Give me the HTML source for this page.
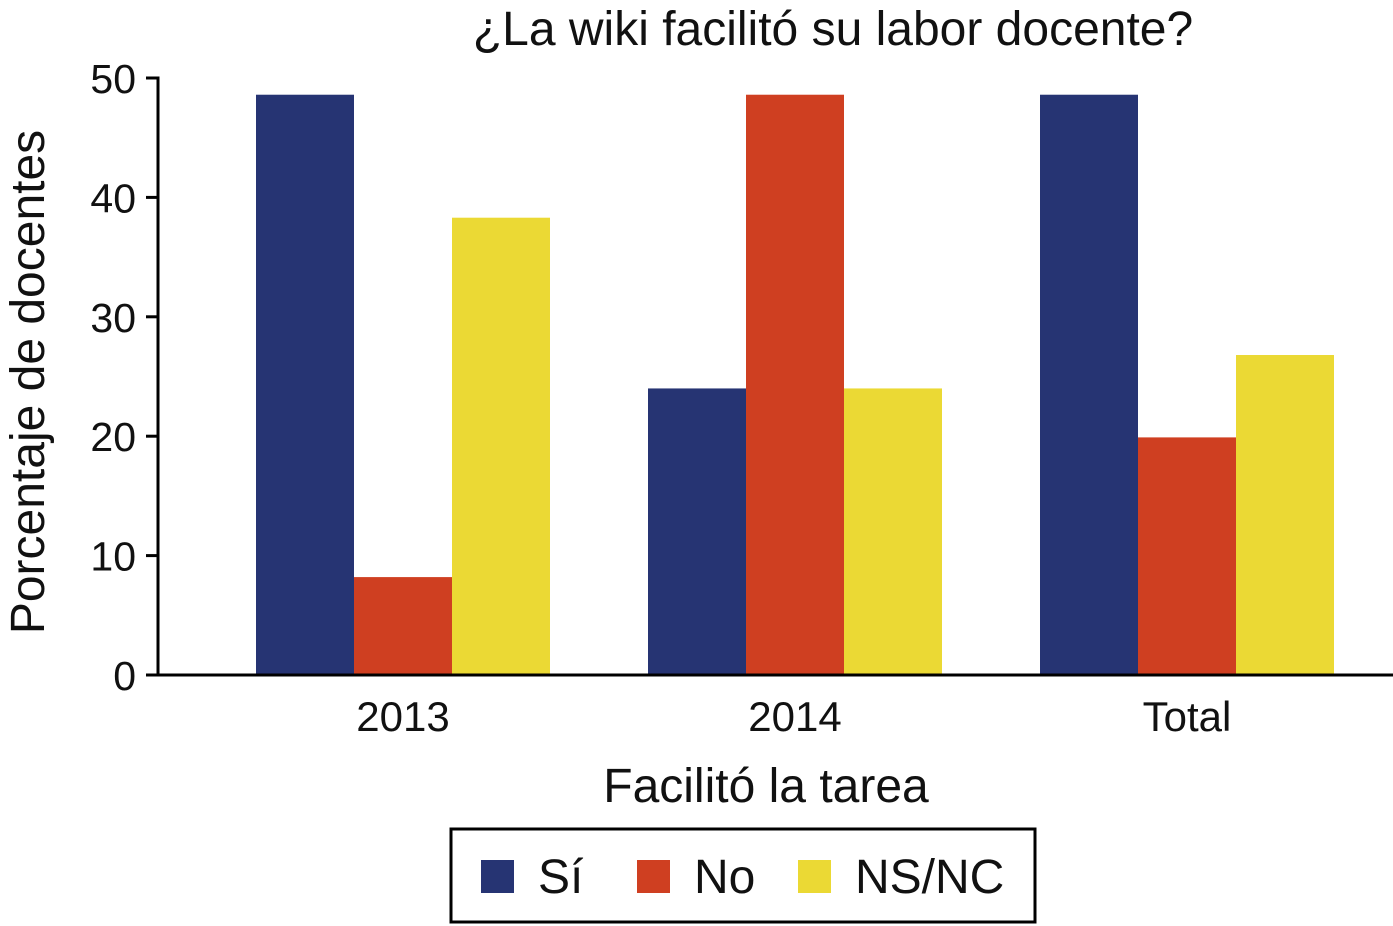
<!DOCTYPE html>
<html><head><meta charset="utf-8">
<style>
body{margin:0;background:#fff;}
svg{display:block;font-family:"Liberation Sans",Arial,sans-serif;}
</style></head>
<body>
<svg id="chart" width="1393" height="926" viewBox="0 0 1393 926">
<text x="833" y="45" font-size="48" text-anchor="middle" fill="#111">¿La wiki facilitó su labor docente?</text>
<text transform="translate(44,382) rotate(-90)" font-size="48" text-anchor="middle" fill="#111">Porcentaje de docentes</text>
<text x="766" y="802" font-size="48" text-anchor="middle" fill="#111">Facilitó la tarea</text>
<g id="bars"></g>
<g id="axes"></g>
<g>
<rect x="451" y="829" width="584" height="93" fill="#fff" stroke="#000" stroke-width="3"/>
<rect x="481" y="860" width="33" height="33" fill="#263473"/>
<text x="538" y="893" font-size="48" fill="#111">Sí</text>
<rect x="637" y="860" width="33" height="33" fill="#cf3f21"/>
<text x="694" y="893" font-size="48" fill="#111">No</text>
<rect x="798" y="860" width="33" height="33" fill="#ebd934"/>
<text x="855" y="893" font-size="48" fill="#111">NS/NC</text>
</g>
</svg>
<script>
const categories = ["2013", "2014", "Total"];
const siValues = [48.6, 24.0, 48.6];
const noValues = [8.2, 48.6, 19.9];
const nsncValues = [38.3, 24.0, 26.8];
const yTicks = [0, 10, 20, 30, 40, 50];

const NS = "http://www.w3.org/2000/svg";
const y0 = 675, y50 = 78;
function yScale(v){ return y0 - (v/50)*(y0-y50); }
const firstCenter = 403, lastCenter = 1187;
function xCenter(i){ return firstCenter + i*(lastCenter-firstCenter)/(categories.length-1); }
const barW = 98;
const series = [
  {name:"si", vals:siValues, color:"#263473"},
  {name:"no", vals:noValues, color:"#cf3f21"},
  {name:"nsnc", vals:nsncValues, color:"#ebd934"}
];
const bars = document.getElementById("bars");
categories.forEach((c,i)=>{
  series.forEach((s,j)=>{
    const r = document.createElementNS(NS,"rect");
    const x = xCenter(i) - 1.5*barW + j*barW;
    r.setAttribute("x", x);
    r.setAttribute("y", yScale(s.vals[i]));
    r.setAttribute("width", barW);
    r.setAttribute("height", y0 - yScale(s.vals[i]));
    r.setAttribute("fill", s.color);
    
    
    bars.appendChild(r);
  });
  const t = document.createElementNS(NS,"text");
  t.setAttribute("x", xCenter(i));
  t.setAttribute("y", 731);
  t.setAttribute("font-size", "42");
  t.setAttribute("text-anchor", "middle");
  t.setAttribute("fill", "#111");
  t.textContent = c;
  
  
  bars.appendChild(t);
});
const axes = document.getElementById("axes");
function line(x1,y1,x2,y2,name){
  const l = document.createElementNS(NS,"line");
  l.setAttribute("x1",x1);l.setAttribute("y1",y1);l.setAttribute("x2",x2);l.setAttribute("y2",y2);
  l.setAttribute("stroke","#000");l.setAttribute("stroke-width","3");
  
  
  axes.appendChild(l);
}
line(158, y50-1.5, 158, y0+1.5, "y-axis-line");
line(156.5, y0, 1393, y0, "x-axis-line");
yTicks.forEach(v=>{
  line(146, yScale(v), 158, yScale(v), "y-tick");
  const t = document.createElementNS(NS,"text");
  t.setAttribute("x", 136);
  t.setAttribute("y", yScale(v)+15);
  t.setAttribute("font-size", "41");
  t.setAttribute("text-anchor", "end");
  t.setAttribute("fill", "#111");
  t.textContent = v;
  
  
  axes.appendChild(t);
});
</script>
</body></html>
